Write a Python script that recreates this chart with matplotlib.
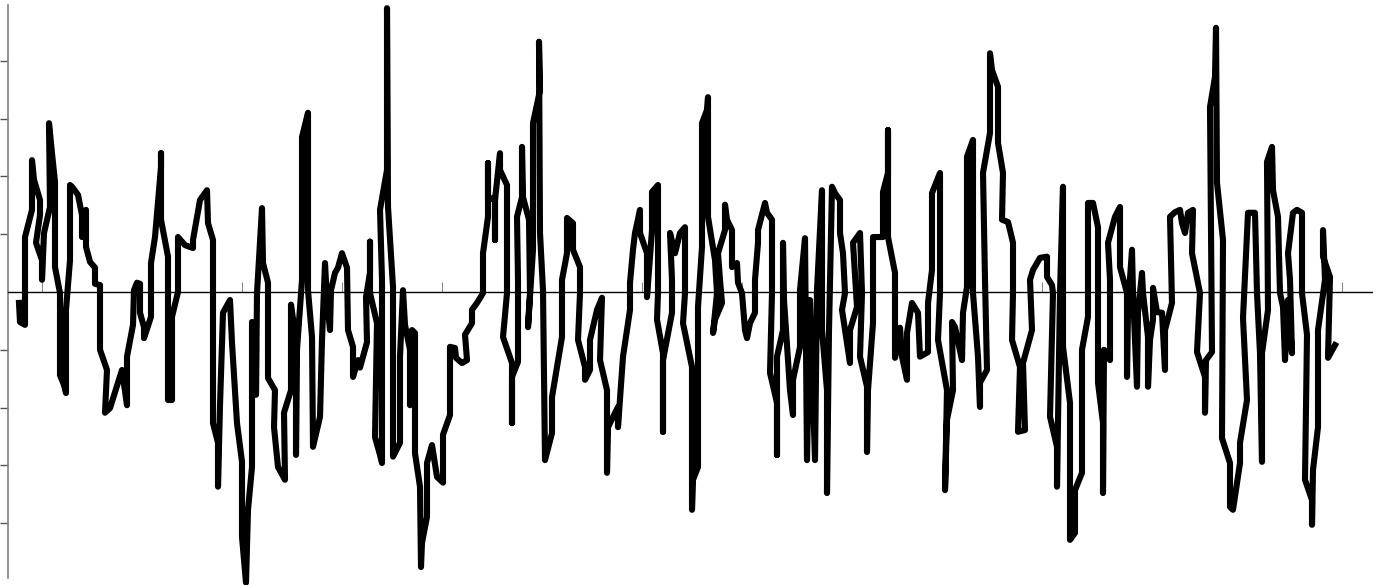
import matplotlib
matplotlib.use("Agg")
import matplotlib.pyplot as plt

# ── Daten ──────────────────────────────────────────────────────────────────
# Verlauf der Linie (x: Einheiten, Ticks alle 100; y: Ticks alle 1)

x_vals = [
    -23, -22, -17, -17, -10, -10, -8, -2, -2, -6, 0, 0, 2, 8, 7, 10, 13, 13, 18, 18,
    22, 24, 24, 28, 28, 30, 36, 40, 40, 44, 44, 48, 53, 53, 58, 58, 65, 63, 68, 80,
    85, 85, 91, 92, 95, 98, 98, 102, 102, 109, 109, 113, 119, 119, 119, 126, 126, 130, 130, 136,
    136, 143, 151, 151, 158, 165, 166, 171, 171, 176, 176, 178, 181, 188, 190, 195, 200, 200, 204, 206,
    210, 210, 214, 214, 215, 220, 221, 226, 226, 233, 232, 236, 243, 242, 249, 249, 254, 254, 255, 260,
    260, 266, 266, 270, 271, 278, 280, 283, 285, 288, 289, 293, 296, 300, 305, 306, 311, 311, 316, 318,
    325, 324, 328, 328, 328, 335, 333, 338, 340, 340, 338, 345, 345, 346, 351, 351, 358, 358, 361, 363,
    368, 368, 370, 373, 373, 378, 379, 380, 385, 385, 390, 395, 401, 401, 408, 408, 413, 414, 420, 425,
    423, 430, 430, 435, 441, 441, 446, 446, 446, 453, 453, 453, 458, 458, 465, 465, 461, 470, 470, 470,
    476, 476, 475, 480, 480, 481, 487, 488, 486, 491, 491, 498, 497, 498, 501, 503, 510, 510, 520, 520,
    525, 525, 531, 531, 538, 538, 536, 543, 543, 548, 548, 555, 560, 558, 565, 565, 566, 576, 576, 581,
    588, 588, 591, 593, 598, 598, 605, 605, 610, 610, 616, 616, 615, 621, 621, 621, 630, 630, 628, 633,
    638, 643, 643, 641, 650, 650, 651, 656, 656, 660, 660, 665, 666, 666, 673, 675, 671, 673, 680, 678,
    676, 683, 683, 685, 690, 690, 695, 696, 700, 703, 705, 708, 713, 713, 716, 716, 723, 725, 730, 730,
    728, 735, 735, 735, 741, 741, 742, 748, 751, 751, 758, 758, 763, 765, 768, 773, 775, 780, 780, 785,
    785, 787, 790, 793, 798, 798, 801, 803, 800, 808, 808, 815, 811, 818, 820, 818, 825, 825, 826, 831,
    831, 841, 841, 846, 846, 846, 853, 853, 858, 860, 865, 865, 870, 876, 878, 886, 886, 890, 890, 898,
    898, 896, 905, 903, 905, 911, 910, 913, 920, 921, 925, 925, 931, 931, 936, 938, 938, 945, 943, 941,
    948, 948, 950, 956, 956, 961, 960, 966, 968, 971, 971, 970, 978, 976, 983, 981, 990, 988, 991, 998,
    1005, 1005, 1010, 1011, 1008, 1015, 1015, 1018, 1021, 1021, 1028, 1028, 1033, 1033, 1040, 1040, 1046, 1046, 1051, 1056,
    1056, 1061, 1061, 1062, 1068, 1068, 1066, 1073, 1078, 1078, 1085, 1085, 1086, 1090, 1091, 1095, 1096, 1100, 1101, 1106,
    1106, 1108, 1111, 1111, 1115, 1120, 1123, 1123, 1130, 1128, 1133, 1138, 1140, 1143, 1146, 1151, 1150, 1158, 1155, 1163,
    1163, 1164, 1170, 1168, 1173, 1174, 1175, 1181, 1180, 1188, 1188, 1191, 1198, 1198, 1205, 1201, 1206, 1213, 1215, 1218,
    1220, 1220, 1226, 1225, 1230, 1231, 1236, 1238, 1241, 1243, 1246, 1250, 1248, 1246, 1251, 1255, 1260, 1260, 1265, 1263,
    1270, 1270, 1271, 1276, 1276, 1283, 1281, 1281, 1288, 1286, 1293,
]

y_vals = [
    -0.19, -0.52, -0.57, 0.95, 1.42, 2.28, 1.94, 1.59, 1.33, 0.85, 0.55, 0.21, 1.02, 1.47, 2.92, 2.40, 1.90, 0.43, -0.02, -1.44,
    -1.61, -1.75, -0.31, 0.55, 1.85, 1.82, 1.68, 1.33, 0.95, 1.42, 0.78, 0.52, 0.42, 0.14, 0.12, -1.00, -1.35, -2.09, -2.01, -1.35,
    -1.96, -1.12, -0.57, 0.03, 0.16, 0.14, -0.36, -0.61, -0.80, -0.43, 0.50, 0.95, 2.16, 2.40, 1.25, 0.61, -1.87, -1.87, -0.43, 0.00,
    0.95, 0.81, 0.76, 0.90, 1.59, 1.76, 1.19, 0.90, -2.27, -2.61, -3.37, -1.96, -0.36, -0.14, -0.88, -2.27, -2.94, -4.24, -5.03, -3.77,
    -3.03, -0.52, -0.92, -1.78, -0.02, 1.45, 0.50, 0.16, -1.49, -1.70, -2.34, -3.03, -3.25, -2.09, -1.70, -0.22, -0.83, -2.82, -1.00, 0.21,
    2.68, 3.10, 0.03, -0.78, -2.68, -2.16, -0.83, 0.50, -0.14, -0.66, 0.03, 0.33, 0.42, 0.67, 0.42, -0.66, -0.95, -1.47, -1.18, -1.31,
    -0.87, -0.09, 0.33, 0.87, -0.02, -0.54, -2.51, -2.82, -2.96, 0.21, 1.42, 2.11, 4.91, 1.47, 0.09, -2.85, -2.61, -1.12, 0.03, -0.57,
    -1.00, -1.96, -0.66, -0.71, -2.79, -3.37, -4.76, -4.34, -3.89, -2.96, -2.65, -3.20, -3.30, -2.47, -2.13, -0.95, -0.97, -1.14, -1.23, -1.18,
    -0.74, -0.54, -0.31, -0.19, -0.02, 0.67, 1.30, 2.23, 1.59, 1.64, 0.90, 1.59, 2.40, 2.11, 1.85, -0.02, -0.78, -1.23, -2.27, -1.47,
    -1.21, 0.21, 1.30, 1.64, 2.51, 1.64, 1.25, -0.02, -0.61, 0.73, 2.92, 3.49, 4.33, 1.02, 0.03, -2.91, -2.44, -1.82, -0.78, 0.21,
    0.67, 1.28, 1.19, 0.73, 0.43, -0.02, -0.83, -1.30, -1.52, -1.35, -0.83, -0.31, -0.10, -1.18, -1.70, -3.13, -2.34, -1.99, -2.34, -1.12,
    -0.31, 0.16, 0.73, 1.02, 1.42, 1.02, 0.67, -0.09, 1.07, 1.73, 1.85, -0.02, -0.48, -1.06, -2.42, -1.18, -0.36, 0.21, 1.02, 0.67,
    1.02, 1.12, -0.02, -0.54, -1.30, -3.77, -3.25, -3.03, -0.26, 0.78, 2.92, 3.15, 3.37, 1.30, 0.55, -0.02, -0.71, -0.48, -0.19, 0.21,
    0.67, 1.07, 1.51, 1.25, 1.07, 0.43, 0.50, 0.16, -0.02, -0.66, -0.80, -0.54, -0.36, 0.21, 0.85, 1.07, 1.54, 1.37, 1.25, -0.02,
    -1.40, -1.92, -2.82, -1.12, -0.66, 0.85, -0.14, -1.70, -2.13, -1.52, -0.95, 0.03, 0.93, -2.91, -0.14, -2.91, 0.03, 1.76, -0.66, -1.70,
    -3.48, -0.66, 1.82, 1.71, 1.59, 1.02, 0.67, -0.02, -0.31, -1.23, -0.66, -0.26, 0.85, 1.02, -0.02, -1.12, -1.64, -2.77, -1.70, -0.54,
    0.95, 0.95, 1.73, 2.06, 2.80, 0.95, 0.33, -1.14, -0.62, -1.12, -1.52, -0.71, -0.19, -0.36, -1.12, -1.04, -0.19, 0.38, 1.71, 2.06,
    -0.02, -0.83, -1.70, -3.43, -2.21, -1.70, -0.52, -0.61, -1.18, -0.36, 0.09, 2.34, 2.63, -0.02, -1.12, -1.99, -1.57, -1.35, 0.21, 2.06,
    2.75, 4.13, 3.84, 3.55, 2.58, 2.06, 1.25, 1.21, 1.07, 0.85, -0.02, -0.83, -1.30, -2.42, -2.39, -1.23, -0.66, 0.21, 0.38, 0.59,
    0.61, 0.26, 0.12, -0.02, -2.16, -2.68, -3.37, -0.02, 1.82, -0.95, -1.92, -4.29, -4.17, -3.43, -3.13, -1.00, -0.43, 1.54, 1.54, 1.12,
    -1.57, -2.27, -3.48, -1.00, -1.18, 0.21, 0.85, 1.30, 1.47, 0.43, -0.02, -1.47, -0.26, 0.73, -0.02, -1.64, -0.36, 0.33, -0.02, -0.78,
    -1.64, -0.83, -0.48, 0.07, -0.35, -0.36, -1.35, -0.66, -0.19, 1.30, 1.38, 1.42, 1.19, 1.02, 1.37, 1.42, 0.67, -0.02, -1.04, -1.47,
    -2.09, -1.18, -1.04, 3.20, 3.72, 4.57, 1.89, 0.90, -2.53, -2.96, -3.72, -3.77, -2.96, -2.61, -1.87, -0.45, 1.37, 1.37, -0.02, -1.06,
    -2.94, -1.06, -0.31, 2.25, 2.51, 1.76, 1.30, -0.02, -0.26, -1.18, -0.14, -1.06, 0.21, 0.67, 1.37, 1.42, 1.37, -0.02, -0.74, -3.25,
    -3.60, -4.03, -3.08, -2.34, -0.66, 0.21, 1.07, 0.61, 0.26, -1.14, -0.92,
]

x_ticks = list(range(0, 1301, 100))
y_ticks = [-4, -3, -2, -1, 1, 2, 3, 4]

# ── Plot ───────────────────────────────────────────────────────────────────

W, H = 1373, 585
fig = plt.figure(figsize=(W / 100, H / 100), dpi=100)
ax = fig.add_axes([7.5 / W, (H - 578) / H, (W - 7.5) / W, (578 - 5.3) / H])

ax.plot(x_vals, y_vals, color="black", linewidth=4.4, clip_on=False)

ax.set_xlim(-34.5, 1331)
ax.set_ylim(-4.95, 4.96)

# Achsen: linke Achse am Rand, untere Achse auf y = 0
ax.spines["top"].set_visible(False)
ax.spines["right"].set_visible(False)
ax.spines["bottom"].set_position(("data", 0))
ax.spines["bottom"].set_color("black")
ax.spines["bottom"].set_linewidth(1.0)
ax.spines["left"].set_color("#808080")
ax.spines["left"].set_linewidth(1.2)

ax.set_xticks(x_ticks)
ax.set_yticks(y_ticks)
ax.set_xticklabels([])
ax.set_yticklabels([])
ax.tick_params(axis="x", direction="in", length=7.5, width=0.8, color="#888888")
ax.tick_params(axis="y", direction="out", length=5.5, width=1.0, color="#555555")

fig.savefig("out.png", dpi=100)
